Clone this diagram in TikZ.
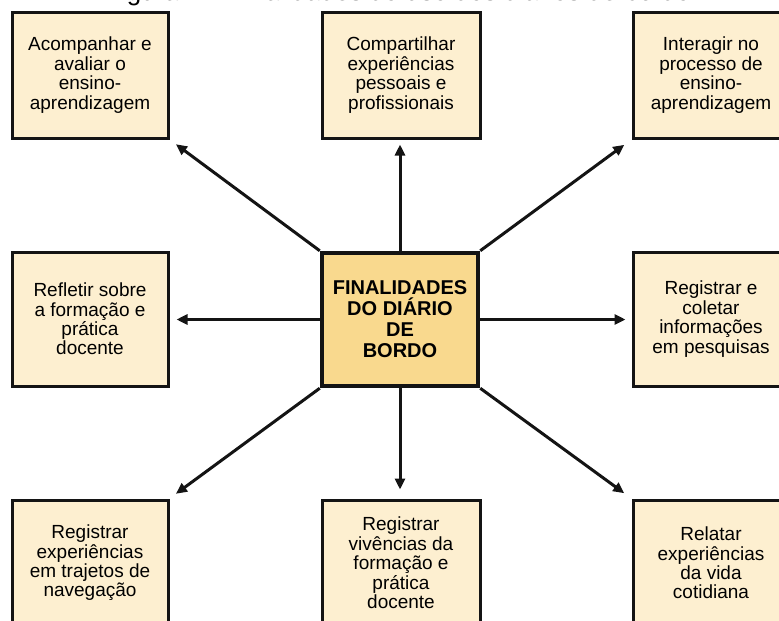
\documentclass[tikz,border=0pt]{standalone}
\usepackage{fontspec}
\setmainfont{Liberation Sans}
\usetikzlibrary{arrows.meta}

\definecolor{boxfill}{HTML}{FDEFD0}
\definecolor{hubfill}{HTML}{F9D98E}
\definecolor{edge}{HTML}{141414}

\tikzset{
  goalbox/.style={draw=edge, line width=3pt, fill=boxfill, minimum width=156pt,
    minimum height=126pt, align=center, inner sep=0pt,
    font=\fontsize{19}{19.4}\selectfont},
  hubbox/.style={draw=edge, line width=4.5pt, fill=hubfill, minimum width=156pt,
    minimum height=133pt, align=center, inner sep=0pt,
    font=\bfseries\fontsize{20}{21}\selectfont},
  link/.style={draw=edge, line width=3pt, -{Triangle[length=11pt,width=10pt]},
    shorten >=7pt}
}

\begin{document}
\begin{tikzpicture}[x=1pt,y=-1pt]
\useasboundingbox (0,0) rectangle (779,621);
\clip (0,0) rectangle (779,621);

% caption line, only its lower edge falls inside the frame
\node[anchor=base, font=\fontsize{26}{28}\selectfont, inner sep=0pt] (caption)
  at (398,0.3) {Figura 1 – Finalidades do uso dos diários de bordo};

% central hub
\node[hubbox] (hub) at (400,319.5) {FINALIDADES\\DO DIÁRIO\\DE\\BORDO};

% surrounding goals
\node[goalbox] (tl) at (90,75)  {Acompanhar e\\avaliar o\\ensino-\\aprendizagem};
\node[goalbox, minimum width=158pt] (tm) at (401,75) {Compartilhar\\experiências\\pessoais e\\profissionais};
\node[goalbox] (tr) at (711,75) {Interagir no\\processo de\\ensino-\\aprendizagem};

\node[goalbox, minimum height=134pt] (ml) at (90,319)  {Refletir sobre\\a formação e\\prática\\docente};
\node[goalbox, minimum height=134pt] (mr) at (711,319) {Registrar e\\coletar\\informações\\em pesquisas};

\node[goalbox] (bl) at (90,563)  {Registrar\\experiências\\em trajetos de\\navegação};
\node[goalbox, minimum width=158pt] (bm) at (401,563) {Registrar\\vivências da\\formação e\\prática\\docente};
\node[goalbox] (br) at (711,563) {Relatar\\experiências\\da vida\\cotidiana};

% connectors from the hub
\draw[link, shorten >=5pt] (hub.north) -- (hub.north |- tm.south);
\draw[link, shorten >=9pt] (hub.south) -- (hub.south |- bm.north);
\draw[link] (hub.west) -- (hub.west -| ml.east);
\draw[link, shorten >=6pt] (hub.east) -- (hub.east -| mr.west);
\draw[link, shorten >=8pt] (hub.north west) -- (tl.south east);
\draw[link, shorten >=9pt] (hub.north east) -- (tr.south west);
\draw[link, shorten >=8pt] (hub.south west) -- (bl.north east);
\draw[link, shorten >=9pt] (hub.south east) -- (br.north west);
\end{tikzpicture}
\end{document}
